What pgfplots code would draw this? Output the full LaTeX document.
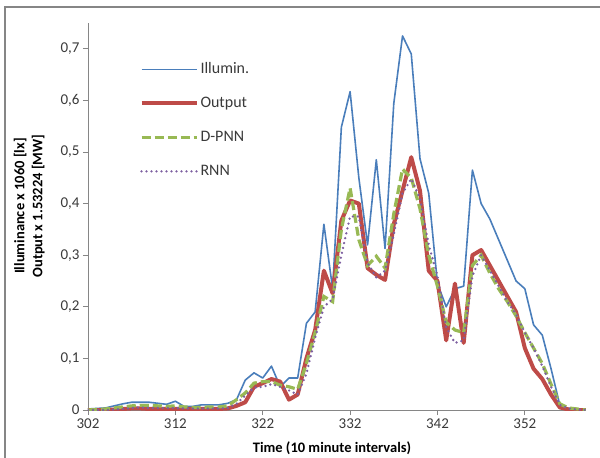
\documentclass[border=0pt]{standalone}
\usepackage{fontspec}
\setmainfont{Carlito}
\usepackage{pgfplots}
\pgfplotsset{compat=1.18}
\usepackage{pgfplotstable}
\definecolor{cBlue}{HTML}{4A7EBB}
\definecolor{cRed}{HTML}{BE4B48}
\definecolor{cGreen}{HTML}{98B954}
\definecolor{cPurple}{HTML}{7D5FA0}
\definecolor{axgray}{HTML}{868686}
\definecolor{txt}{HTML}{3A3A3A}
\pgfplotstableread{
t ill out dpnn rnn
302 0.002 0.000 0.000 0.000
303 0.003 0.000 0.001 0.000
304 0.004 0.000 0.002 0.000
305 0.008 0.001 0.004 0.001
306 0.012 0.002 0.006 0.002
307 0.015 0.003 0.008 0.004
308 0.015 0.003 0.009 0.005
309 0.015 0.002 0.009 0.004
310 0.013 0.002 0.008 0.004
311 0.011 0.002 0.007 0.004
312 0.017 0.002 0.008 0.004
313 0.007 0.002 0.006 0.003
314 0.007 0.002 0.005 0.003
315 0.010 0.002 0.005 0.003
316 0.010 0.002 0.006 0.003
317 0.010 0.002 0.006 0.003
318 0.013 0.003 0.008 0.004
319 0.020 0.008 0.020 0.012
320 0.058 0.015 0.033 0.028
321 0.072 0.045 0.052 0.043
322 0.062 0.052 0.055 0.045
323 0.085 0.060 0.055 0.050
324 0.045 0.055 0.048 0.045
325 0.062 0.020 0.045 0.038
326 0.062 0.030 0.040 0.030
327 0.168 0.100 0.090 0.070
328 0.190 0.155 0.150 0.140
329 0.360 0.270 0.220 0.200
330 0.235 0.226 0.210 0.215
331 0.548 0.367 0.350 0.300
332 0.617 0.406 0.430 0.375
333 0.450 0.400 0.330 0.375
334 0.320 0.275 0.280 0.285
335 0.485 0.262 0.298 0.257
336 0.313 0.252 0.275 0.270
337 0.594 0.360 0.380 0.340
338 0.725 0.425 0.467 0.420
339 0.690 0.490 0.450 0.448
340 0.487 0.425 0.390 0.410
341 0.420 0.270 0.300 0.320
342 0.245 0.250 0.240 0.260
343 0.200 0.135 0.170 0.160
344 0.235 0.245 0.155 0.130
345 0.240 0.130 0.150 0.135
346 0.465 0.300 0.280 0.260
347 0.400 0.310 0.300 0.300
348 0.370 0.280 0.265 0.270
349 0.330 0.250 0.235 0.240
350 0.290 0.220 0.210 0.210
351 0.250 0.190 0.182 0.185
352 0.235 0.120 0.150 0.150
353 0.165 0.080 0.120 0.120
354 0.145 0.060 0.090 0.085
355 0.080 0.030 0.050 0.045
356 0.010 0.005 0.012 0.010
357 0.003 0.001 0.004 0.003
358 0.001 0.000 0.002 0.001
359 0.000 0.000 0.000 0.000
}\datatable
\begin{document}
\begin{tikzpicture}[x=1pt,y=1pt]
\useasboundingbox (-88,-48) rectangle (512,410);
\draw[color=axgray, line width=1.6pt] (-83,-60) -- (-83,403) -- (530,403);
\begin{axis}[
  at={(0,0)}, anchor=south west,
  scale only axis, width=498pt, height=387pt,
  xmin=302, xmax=359, ymin=0, ymax=0.75,
  axis x line*=bottom, axis y line*=left,
  axis line style={draw=axgray, line width=0.9pt, -},
  xtick={302,312,322,332,342,352},
  ytick={0,0.1,0.2,0.3,0.4,0.5,0.6,0.7},
  tick align=outside, major tick length=5pt,
  tick style={draw=axgray, line width=0.9pt},
  /pgf/number format/assume math mode=true,
  /pgf/number format/.cd, use comma, fixed, precision=1, /pgfplots/.cd,
  xticklabel style={font=\fontsize{15}{15}\selectfont, text=txt},
  yticklabel style={font=\fontsize{15}{15}\selectfont, text=txt},
  xticklabel={\pgfmathprintnumber[precision=0,1000 sep={}]{\tick}},
  xlabel={Time (10 minute intervals)},
  xlabel style={font=\bfseries\fontsize{14.5}{17}\selectfont, text=black, at={(axis description cs:0.49,-0.098)}, anchor=center},
  ylabel={Illuminance x 1060  [lx]\\Output x 1.53224  [MW]},
  ylabel style={font=\bfseries\fontsize{14.5}{18}\selectfont, text=black, align=center, at={(axis description cs:-0.118,0.527)}, anchor=center},
  legend cell align=left,
  legend style={draw=none, fill=none, at={(axis description cs:0.097,0.909)}, anchor=north west,
    font=\fontsize{16}{16}\selectfont, text=txt, row sep=16pt, column sep=1pt,
    nodes={inner sep=1pt, text height=12pt, text depth=4pt}},
  legend image code/.code={\draw[#1] (0pt,0pt) -- (55pt,0pt);},
]
\addplot[cBlue, line width=1.6pt, line join=round] table[x=t,y=ill] {\datatable};
\addlegendentry{Illumin.}
\addplot[cRed, line width=4pt, line join=round] table[x=t,y=out] {\datatable};
\addlegendentry{Output}
\addplot[cGreen, line width=3.2pt, dash pattern=on 9pt off 4pt] table[x=t,y=dpnn] {\datatable};
\addlegendentry{D-PNN}
\addplot[cPurple, line width=2.6pt, line cap=round, dash pattern=on 0pt off 5pt] table[x=t,y=rnn] {\datatable};
\addlegendentry{RNN}
\end{axis}
\end{tikzpicture}
\end{document}
